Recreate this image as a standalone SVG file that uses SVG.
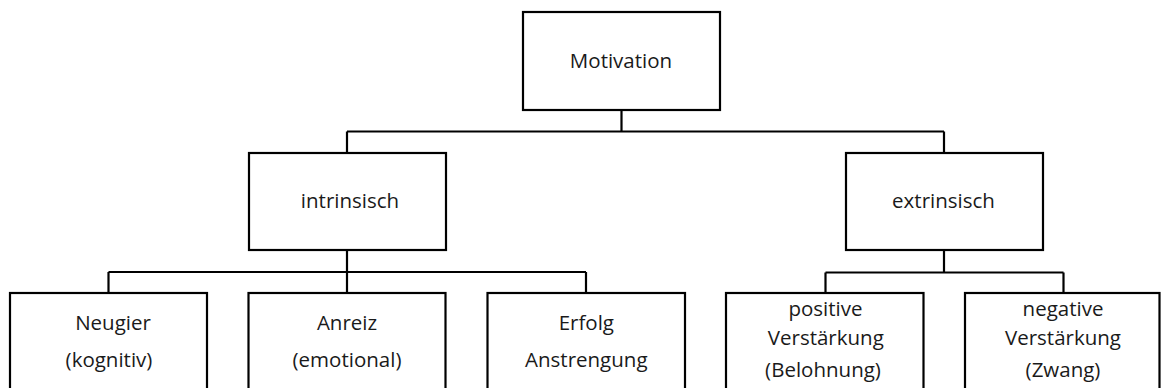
<svg xmlns="http://www.w3.org/2000/svg" width="1162" height="388" viewBox="0 0 1162 388">
<style>
.box{fill:#fff;stroke:#000;stroke-width:2.2}
.conn{fill:none;stroke:#000;stroke-width:2.2}
text{font-family:"Open Sans","Noto Sans",sans-serif;font-size:20.5px;fill:#1a1a1a;text-anchor:middle}
</style>
<rect width="1162" height="388" fill="#fff"/>
<g id="connectors">
<path class="conn" d="M621.5,110 V131.5 M347,131.5 H944 M347,131.5 V153 M944,131.5 V153"/>
<path class="conn" d="M347,250 V272 M108.5,272 H586 M108.5,272 V293 M347,272 V293 M586,272 V293"/>
<path class="conn" d="M944,250 V272.5 M825.5,272.5 H1063.5 M825.5,272.5 V293 M1063.5,272.5 V293"/>
</g>
<g id="motivation"><rect class="box" x="523" y="12" width="197" height="98"/><text x="621" y="68">Motivation</text></g>
<g id="intrinsisch"><rect class="box" x="249" y="153" width="197" height="97"/><text x="350" y="208">intrinsisch</text></g>
<g id="extrinsisch"><rect class="box" x="846" y="153" width="197" height="97"/><text x="943.5" y="208">extrinsisch</text></g>
<g id="neugier"><rect class="box" x="10" y="293" width="197" height="110"/><text x="113" y="330">Neugier</text><text x="109" y="366.5">(kognitiv)</text></g>
<g id="anreiz"><rect class="box" x="248.5" y="293" width="197" height="110"/><text x="347" y="330">Anreiz</text><text x="347" y="366.5">(emotional)</text></g>
<g id="erfolg"><rect class="box" x="487.5" y="293" width="197.5" height="110"/><text x="586.3" y="330">Erfolg</text><text x="586.3" y="366.5">Anstrengung</text></g>
<g id="positive"><rect class="box" x="726" y="293" width="197.5" height="110"/><text x="825.5" y="316">positive</text><text x="825.8" y="345">Verstärkung</text><text x="823" y="377">(Belohnung)</text></g>
<g id="negative"><rect class="box" x="965" y="293" width="194.5" height="110"/><text x="1063" y="316">negative</text><text x="1063" y="345">Verstärkung</text><text x="1063" y="377">(Zwang)</text></g>
</svg>
